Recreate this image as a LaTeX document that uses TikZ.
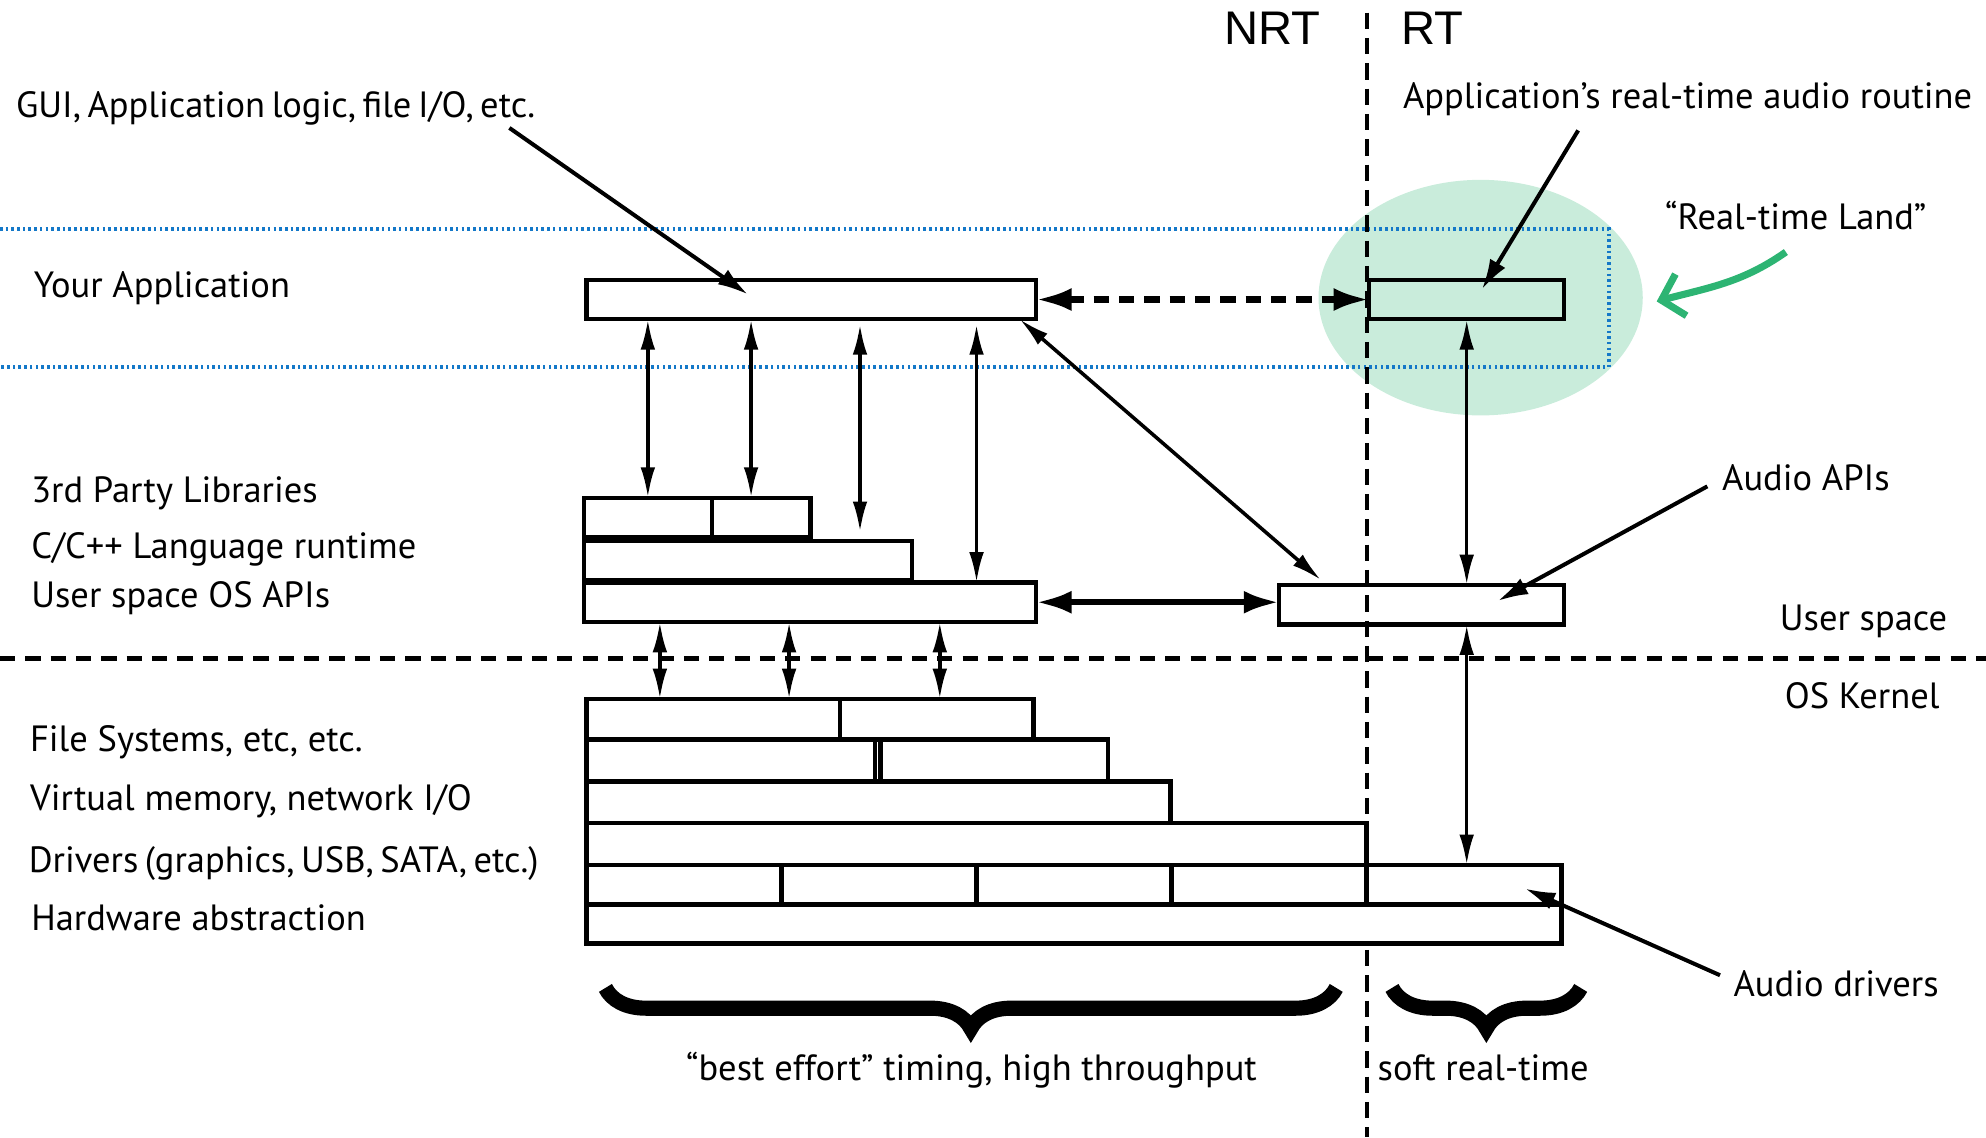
\documentclass[tikz,border=0pt]{standalone}
\usepackage{fontspec}
\setmainfont{PT Sans}
\newfontfamily\headfont{Liberation Sans}
\usetikzlibrary{arrows.meta,positioning,decorations.pathreplacing}
\definecolor{landfill}{RGB}{201,236,219}
\definecolor{landline}{RGB}{45,180,115}
\definecolor{ringblue}{RGB}{20,120,200}
\tikzstyle{blk}=[draw, line width=1pt, fill=white, anchor=north west, minimum height=3.1mm, inner sep=0pt, outer sep=0pt]
\tikzstyle{hollow}=[blk, fill=none]
\tikzstyle{lbl}=[anchor=base west, inner sep=0pt]
\tikzstyle{link}=[<->, line width=0.8pt]
\tikzstyle{fatlink}=[<->, line width=1.4pt, >={Latex[length=2.8mm,width=1.8mm]}]
\tikzstyle{note}=[->, line width=0.9pt, >={Latex[length=2.4mm,width=1.4mm]}]
\tikzstyle{curly}=[decorate, decoration={brace, amplitude=3.2mm}, line width=3.4pt]

\begin{document}
\begin{tikzpicture}[x=0.1mm, y=-0.1mm, >={Latex[length=2.4mm,width=1.15mm]}, font=\fontsize{8.2}{9}\selectfont]
\useasboundingbox (0,0) rectangle (1568,898);

% real-time land
\fill[landfill] (1169,235) ellipse [x radius=12.8mm, y radius=9.3mm];
\draw[ringblue, line width=0.9pt, dash pattern=on 0.2mm off 0.25mm] (0,181) -| (1270,290) -- (0,290);

% NRT | RT, user | kernel
\draw[line width=0.9pt, dash pattern=on 1.3mm off 0.7mm] (1079,10) -- (1079,898);
\draw[line width=1.1pt, dash pattern=on 1.2mm off 0.8mm] (0,520) -- (1568,520);

\node[font={\headfont\fontsize{10.6}{12}\selectfont}, anchor=base east, inner sep=0pt] (nrt) at (1043,35) {NRT};
\node[font={\headfont\fontsize{10.6}{12}\selectfont}, anchor=base west, inner sep=0pt] (rt) at (1106,35) {RT};

% user space
\node[blk, minimum width=35.5mm] (app) at (463,221) {};
\node[hollow, minimum width=15.4mm] (rtapp) at (1081,221) {};
\node[blk, minimum width=10.1mm] (lib1) at (461,393) {};
\node[blk, minimum width=7.8mm] (lib2) at (lib1.north east) {};
\node[blk, minimum width=25.9mm] (crt) at ([yshift=-0.3mm]lib1.south west) {};
\node[blk, minimum width=35.7mm] (osapi) at ([yshift=-0.2mm]crt.south west) {};
\node[hollow, minimum width=22.5mm] (audapi) at (1010,462) {};

% kernel
\node[blk, minimum width=20mm, minimum height=3.2mm] (fs1) at (463,552) {};
\node[blk, minimum width=15.3mm, minimum height=3.2mm] (fs2) at (fs1.north east) {};
\node[blk, minimum width=22.8mm, minimum height=3.3mm] (vfs1) at (fs1.south west) {};
\node[blk, minimum width=18mm, minimum height=3.3mm] (vfs2) at ([xshift=0.4mm]vfs1.north east) {};
\node[blk, minimum width=46.1mm, minimum height=3.3mm] (vm) at (vfs1.south west) {};
\node[blk, minimum width=61.6mm, minimum height=3.3mm] (drv) at (vm.south west) {};
\node[blk, minimum width=15.4mm] (hal1) at (drv.south west) {};
\node[blk, minimum width=15.4mm] (hal2) at (hal1.north east) {};
\node[blk, minimum width=15.4mm] (hal3) at (hal2.north east) {};
\node[blk, minimum width=15.4mm] (hal4) at (hal3.north east) {};
\node[blk, minimum width=15.4mm] (adcell) at (hal4.north east) {};
\node[blk, minimum width=77mm] (hw) at (hal1.south west) {};

% labels
\node[lbl, font={\fontsize{8.2}{9}\selectfont\spaceskip=0.18em}] (gui) at (12,93) {GUI, Application logic, file I/O, etc.};
\node[lbl] (yourapp) at (26,235) {Your Application};
\node[lbl] (thirdp) at (24,397) {3rd Party Libraries};
\node[lbl] (crtl) at (24,441) {C/C++ Language runtime};
\node[lbl] (osapil) at (24,480) {User space OS APIs};
\node[lbl] (fsl) at (23,593) {File Systems, etc, etc.};
\node[lbl] (vml) at (23,640) {Virtual memory, network I/O};
\node[lbl, font={\fontsize{8.2}{9}\selectfont\spaceskip=0.18em}] (drvl) at (22,689) {Drivers (graphics, USB, SATA, etc.)};
\node[lbl] (hwl) at (24,735) {Hardware abstraction};
\node[lbl] (rtr) at (1107,86) {Application’s real-time audio routine};
\node[lbl] (land) at (1314,181) {“Real-time Land”};
\node[lbl] (aapi) at (1359,387) {Audio APIs};
\node[lbl, anchor=base east] (usp) at (1538,498) {User space};
\node[lbl, anchor=base east] (osk) at (1532,559) {OS Kernel};
\node[lbl] (adrv) at (1368,787) {Audio drivers};
\node[anchor=base, inner sep=0pt] (best) at (767,853) {“best effort” timing, high throughput};
\node[anchor=base, inner sep=0pt] (soft) at (1171,853) {soft real-time};

% connectors
\coordinate (c2) at ([xshift=-0.8mm]lib2.north);
\coordinate (c3) at ([xshift=-4.1mm, yshift=0.7mm]crt.north east);
\coordinate (c4) at ([xshift=-4.7mm]osapi.north east);
\draw[link] (app.south -| lib1.north) -- (lib1.north);
\draw[link] (app.south -| c2) -- (c2);
\draw[link, shorten <=0.4mm] (app.south -| c3) -- (c3);
\draw[link, shorten <=0.4mm] (app.south -| c4) -- (c4);
\draw[link] ([xshift=-1.3mm]app.south east) -- ([xshift=3.3mm, yshift=0.4mm]audapi.north west);
\draw[fatlink, dash pattern=on 1.2mm off 0.8mm] (app.east) -- (rtapp.west);
\draw[fatlink] (osapi.east) -- (osapi.east -| audapi.west);
\draw[link] (rtapp.south) -- (rtapp.south |- audapi.north);
\draw[link] (rtapp.south |- audapi.south) -- (rtapp.south |- adcell.north);

\coordinate (k1) at ([xshift=5.8mm]fs1.north west);
\coordinate (k2) at ([xshift=16mm]fs1.north west);
\coordinate (k3) at ([xshift=7.9mm]fs2.north west);
\draw[link] (osapi.south -| k1) -- (k1);
\draw[link] (osapi.south -| k2) -- (k2);
\draw[link] (osapi.south -| k3) -- (k3);

% notes
\draw[note] ([xshift=-2.1mm, yshift=-0.8mm]gui.base east) -- ([xshift=-5mm, yshift=0.4mm]app.center);
\draw[note] ([xshift=13.9mm, yshift=-1.7mm]rtr.base west) -- ([xshift=1.2mm, yshift=0.8mm]rtapp.center);
\draw[note] ([xshift=-1.1mm, yshift=0.3mm]aapi.base west) -- ([xshift=6mm, yshift=0.3mm]audapi.center);
\draw[note] ([xshift=-1mm, yshift=1.7mm]adrv.base west) -- ([xshift=4.8mm, yshift=-0.3mm]adcell.center);
\draw[landline, line width=1.6pt, -{Straight Barb[length=1.6mm, width=3.4mm]}] ([xshift=9.6mm, yshift=-1.8mm]land.base west) to[out=215, in=15] ([xshift=-0.6mm, yshift=-5.7mm]land.base west);

% timing braces
\draw[curly] (1055,780) -- (478,780);
\draw[curly] (1248,780) -- (1099,780);
\end{tikzpicture}
\end{document}
